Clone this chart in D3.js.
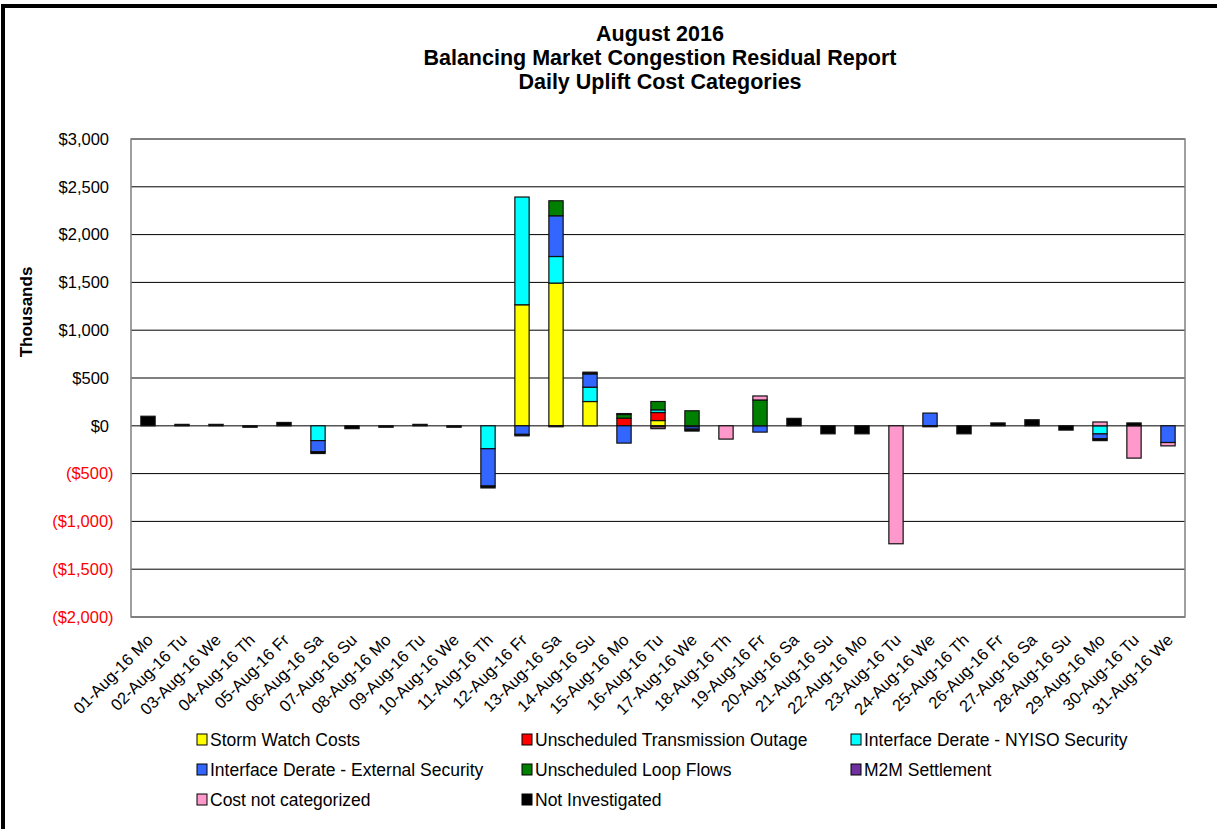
<!DOCTYPE html>
<html>
<head>
<meta charset="utf-8">
<script src="https://cdn.jsdelivr.net/npm/d3@7"></script>
<style>
  body { margin: 0; background: #fff; }
  text { font-family: "Liberation Sans", Arial, sans-serif; }
</style>
</head>
<body>
<div class="chart"></div>
<script>
// days of August 2016
var days = ["01-Aug-16 Mo","02-Aug-16 Tu","03-Aug-16 We","04-Aug-16 Th","05-Aug-16 Fr","06-Aug-16 Sa","07-Aug-16 Su",
  "08-Aug-16 Mo","09-Aug-16 Tu","10-Aug-16 We","11-Aug-16 Th","12-Aug-16 Fr","13-Aug-16 Sa","14-Aug-16 Su",
  "15-Aug-16 Mo","16-Aug-16 Tu","17-Aug-16 We","18-Aug-16 Th","19-Aug-16 Fr","20-Aug-16 Sa","21-Aug-16 Su",
  "22-Aug-16 Mo","23-Aug-16 Tu","24-Aug-16 We","25-Aug-16 Th","26-Aug-16 Fr","27-Aug-16 Sa","28-Aug-16 Su",
  "29-Aug-16 Mo","30-Aug-16 Tu","31-Aug-16 We"];

// values in $ thousands, one per day
var stormWatch   = [0,0,0,0,0,0,0,0,0,0,0,1266,1493,254,0,55,0,0,0,0,0,0,0,0,0,0,0,0,0,0,0];
var outage       = [0,0,0,0,0,0,0,0,0,0,0,0,0,0,80,84,0,0,0,0,0,0,0,0,0,0,0,0,0,0,0];
var nyisoSec     = [0,0,0,0,0,-155,0,0,0,0,-240,1127,278,150,0,28,-10,0,0,0,0,0,0,0,0,0,0,0,-85,0,0];
var externalSec  = [0,0,0,0,0,-115,0,0,0,0,-390,-90,426,139,-181,-12,-25,0,-66,0,0,0,0,133,0,0,0,0,-50,0,-175];
var loopFlows    = [0,0,0,0,0,0,0,0,0,0,0,0,157,0,38,87,157,0,270,0,0,0,0,0,0,0,0,0,0,0,0];
var m2m          = [0,0,0,0,0,0,0,0,0,0,0,0,0,0,0,0,0,0,0,0,0,0,0,0,0,0,0,0,0,0,0];
var notCat       = [0,0,0,0,0,0,0,0,0,0,0,0,0,0,0,-18,0,-139,42,0,0,0,-1234,0,0,0,0,0,40,-338,-35];
var notInv       = [100,15,15,-15,35,-20,-30,-15,15,-15,-20,-15,-10,18,10,0,-20,0,0,78,-84,-84,0,-10,-84,30,63,-45,-20,30,0];

var seriesNames = ["Storm Watch Costs","Unscheduled Transmission Outage","Interface Derate - NYISO Security",
  "Interface Derate - External Security","Unscheduled Loop Flows","M2M Settlement","Cost not categorized","Not Investigated"];
var seriesValues = [stormWatch, outage, nyisoSec, externalSec, loopFlows, m2m, notCat, notInv];
var colors = ["#ffff00","#ff0000","#00ffff","#3366ff","#008000","#7030a0","#ff99cc","#000000"];

var yTicks = [-2000,-1500,-1000,-500,0,500,1000,1500,2000,2500,3000];

var svgWidth = 1217, svgHeight = 829;
var plot = { left: 131, right: 1185, top: 139, bottom: 617 };

var svg = d3.select(".chart").append("svg")
  .attr("width", svgWidth)
  .attr("height", svgHeight);

// outer frame
svg.append("rect")
  .attr("x", 3).attr("y", 6)
  .attr("width", 1240).attr("height", 850)
  .attr("fill", "none").attr("stroke", "#000").attr("stroke-width", 4);

// build table for the stack
var table = days.map(function(d, i) {
  var row = { day: d };
  seriesNames.forEach(function(s, j) { row[s] = seriesValues[j][i]; });
  return row;
});

var stacked = d3.stack()
  .keys(seriesNames)
  .offset(d3.stackOffsetDiverging)(table);

var x = d3.scaleBand()
  .domain(days)
  .range([plot.left, plot.right])
  .paddingInner(0.58)
  .paddingOuter(0.29);

var y = d3.scaleLinear()
  .domain([-2000, 3000])
  .range([plot.bottom, plot.top]);

// gridlines
svg.append("g")
  .selectAll("line")
  .data(yTicks)
  .enter()
  .append("line")
  .attr("x1", plot.left).attr("x2", plot.right)
  .attr("y1", d => y(d)).attr("y2", d => y(d))
  .attr("stroke", d => d === 0 ? "#555" : "#000")
  .attr("stroke-width", d => d === 0 ? 1.5 : 1);

// plot border
svg.append("rect")
  .attr("x", plot.left).attr("y", plot.top)
  .attr("width", plot.right - plot.left).attr("height", plot.bottom - plot.top)
  .attr("fill", "none").attr("stroke", "#808080").attr("stroke-width", 1.5);

// bars
svg.append("g")
  .selectAll("g")
  .data(stacked)
  .enter()
  .append("g")
  .attr("fill", (d, i) => colors[i])
  .selectAll("rect")
  .data(d => d.filter(p => p[1] !== p[0]))
  .enter()
  .append("rect")
  .attr("x", d => x(d.data.day))
  .attr("width", x.bandwidth())
  .attr("y", d => y(Math.max(d[0], d[1])))
  .attr("height", d => Math.abs(y(d[0]) - y(d[1])))
  .attr("stroke", "#111")
  .attr("stroke-width", 1.2);

// y axis labels
var fmt = function(v) {
  var s = "$" + d3.format(",")(Math.abs(v));
  return v < 0 ? "(" + s + ")" : s;
};
var yAxis = d3.axisLeft(y).tickValues(yTicks).tickSize(0).tickPadding(0).tickFormat(fmt);
var yG = svg.append("g")
  .attr("transform", "translate(109,0)")
  .call(yAxis);
yG.select(".domain").remove();
yG.selectAll("text")
  .attr("font-size", "16.5px")
  .attr("font-family", "Liberation Sans, Arial, sans-serif")
  .attr("fill", d => d < 0 ? "#ff0000" : "#000")
  .attr("text-anchor", "end")
  .attr("dx", d => d < 0 ? "0.28em" : "0");

// x axis labels
var xAxis = d3.axisBottom(x).tickSize(0).tickPadding(0);
var xG = svg.append("g")
  .attr("transform", "translate(0," + (plot.bottom + 20) + ")")
  .call(xAxis);
xG.select(".domain").remove();
xG.selectAll("text")
  .attr("font-size", "16.5px")
  .attr("font-family", "Liberation Sans, Arial, sans-serif")
  .attr("fill", "#000")
  .attr("text-anchor", "end")
  .attr("dy", "0.35em")
  .attr("transform", "translate(2,0) rotate(-45)");

// axis title
svg.append("text")
  .attr("transform", "translate(32,312) rotate(-90)")
  .attr("text-anchor", "middle")
  .attr("font-size", "17px")
  .attr("font-weight", "bold")
  .text("Thousands");

// chart title
var titleLines = ["August 2016", "Balancing Market Congestion Residual Report", "Daily Uplift Cost Categories"];
svg.append("g")
  .selectAll("text")
  .data(titleLines)
  .enter()
  .append("text")
  .attr("x", 660)
  .attr("y", (d, i) => 41 + i * 24)
  .attr("text-anchor", "middle")
  .attr("font-size", "21.5px")
  .attr("font-weight", "bold")
  .text(d => d);

// legend
var legendCols = [197, 522, 851];
var legend = svg.append("g")
  .selectAll("g")
  .data(seriesNames)
  .enter()
  .append("g")
  .attr("transform", (d, i) => "translate(" + legendCols[i % 3] + "," + (740 + Math.floor(i / 3) * 30) + ")");

legend.append("rect")
  .attr("x", 0).attr("y", -6)
  .attr("width", 10).attr("height", 11)
  .attr("fill", (d, i) => colors[i])
  .attr("stroke", "#000").attr("stroke-width", 1);

legend.append("text")
  .attr("x", 13)
  .attr("y", 0)
  .attr("dy", "0.35em")
  .attr("font-size", "17.5px")
  .text(d => d);
</script>
</body>
</html>
